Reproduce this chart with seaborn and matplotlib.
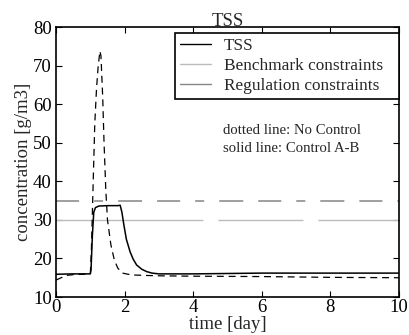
import numpy as np
import pandas as pd
import matplotlib
matplotlib.use("Agg")
import matplotlib.pyplot as plt
import seaborn as sns
from matplotlib.lines import Line2D

# Control A-B (solid)
t_ctrl = [0.0, 0.5, 1.0, 1.02, 1.06, 1.1, 1.15, 1.25, 1.5, 1.8, 1.87, 1.92, 1.98, 2.05, 2.16, 2.25, 2.35, 2.5, 2.64, 2.8, 3.0, 4.0, 5.0, 6.0, 8.0, 10.0]
y_ctrl = [15.9, 16.0, 16.0, 17.0, 26.0, 32.0, 33.2, 33.6, 33.7, 33.7, 33.8, 32.0, 28.6, 25.0, 21.7, 19.8, 18.3, 17.2, 16.6, 16.2, 16.0, 16.0, 16.1, 16.2, 16.2, 16.2]
# No control (dashed)
t_nc = [0.0, 0.15, 0.3, 0.5, 0.8, 1.0, 1.03, 1.06, 1.09, 1.13, 1.18, 1.23, 1.28, 1.31, 1.36, 1.4, 1.45, 1.5, 1.6, 1.7, 1.8, 1.94, 2.1, 2.3, 2.6, 3.0, 4.0, 6.0, 8.0, 10.0]
y_nc = [14.4, 15.0, 15.6, 15.8, 15.9, 16.0, 22.0, 32.0, 42.0, 55.0, 64.0, 70.0, 73.8, 72.5, 62.0, 50.0, 38.0, 30.0, 23.5, 19.6, 17.5, 16.2, 15.9, 15.7, 15.6, 15.5, 15.4, 15.3, 15.1, 15.0]
benchmark = 30
regulation = 35
x_ticks = [0, 2, 4, 6, 8, 10]
y_ticks = [10, 20, 30, 40, 50, 60, 70, 80]

sns.set_style("ticks")
plt.rcParams['font.family'] = ['Liberation Serif', 'DejaVu Serif']
plt.rcParams['lines.scale_dashes'] = False

fig = plt.figure(figsize=(4.09, 3.35), dpi=100)
ax = fig.add_axes([0.137, 0.1134, 0.8386, 0.8056])

df_c = pd.DataFrame({"t": t_ctrl, "y": y_ctrl})
df_n = pd.DataFrame({"t": t_nc, "y": y_nc})

ax.axhline(benchmark, color="#bcbcbc", lw=1.0, dashes=(105.8, 10.8, 61.2, 10.8, 200, 1), zorder=1)
ax.axhline(regulation, color="#858585", lw=1.1, dashes=(16.6, 10.8, 6.5, 10.8, 17.3, 10.8), zorder=1)
sns.lineplot(data=df_n, x="t", y="y", ax=ax, color="black", lw=0.9,
             estimator=None, sort=False, zorder=2)
ax.lines[-1].set_dashes((5, 3.5))
sns.lineplot(data=df_c, x="t", y="y", ax=ax, color="black", lw=1.1,
             estimator=None, sort=False, zorder=3)

ax.set_xlim(0, 10)
ax.set_ylim(10, 80)
ax.set_xticks(x_ticks)
ax.set_yticks(y_ticks)
ax.tick_params(direction="in", top=True, right=True, labelsize=13.5, length=4,
               width=0.8, colors="black")
ax.tick_params(axis="x", pad=1.5)
ax.tick_params(axis="y", pad=3)
for s in ax.spines.values():
    s.set_visible(True)
    s.set_linewidth(1.2)
    s.set_color("black")
ax.set_xlabel("time [day]", fontsize=13.5, labelpad=0)
ax.set_ylabel("concentration [g/m3]", fontsize=13.5, labelpad=1)
ax.set_title("TSS", fontsize=13.5, pad=1)

handles = [Line2D([], [], color="black", lw=1.0),
           Line2D([], [], color="#bcbcbc", lw=1.0),
           Line2D([], [], color="#858585", lw=1.0)]
leg = ax.legend(handles, ["TSS", "Benchmark constraints", "Regulation constraints"],
                loc="upper left", bbox_to_anchor=(0.347, 0.70, 0.653, 0.278),
                mode="expand", fontsize=12.4,
                frameon=True, fancybox=False, framealpha=1, edgecolor="black",
                handlelength=1.8, handletextpad=0.75, borderpad=0.3,
                labelspacing=0.22, borderaxespad=0)
leg.get_frame().set_linewidth(1.2)

ax.text(0.486, 0.618, "dotted line: No Control", transform=ax.transAxes,
        fontsize=10.6, va="center")
ax.text(0.486, 0.551, "solid line: Control A-B", transform=ax.transAxes,
        fontsize=10.6, va="center")

fig.savefig("out.png", dpi=100)
